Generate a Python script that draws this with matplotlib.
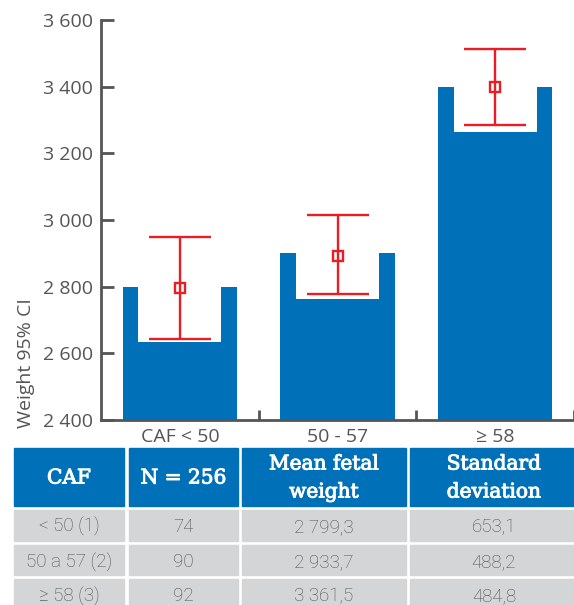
import matplotlib
matplotlib.use('Agg')
import matplotlib.pyplot as plt
import matplotlib.patheffects as pe
from matplotlib.patches import Rectangle
import numpy as np

# chart values
categories = ['CAF < 50', '50 - 57', '≥ 58']
bar_tops = [2800, 2900, 3400]
notch_bottoms = [2635, 2763, 3264]
means = [2795, 2893, 3398]
ci_low = [2643, 2779, 3284]
ci_high = [2948, 3014, 3512]
yticks = [2400, 2600, 2800, 3000, 3200, 3400, 3600]

# table below the chart
header = ['CAF', 'N = 256', 'Mean fetal\nweight', 'Standard\ndeviation']
caf_groups = ['< 50 (1)', '50 a 57 (2)', '≥ 58 (3)']
n_values = ['74', '90', '92']
mean_weights = ['2 799,3', '2 933,7', '3 361,5']
std_devs = ['653,1', '488,2', '484,8']

BLUE = '#0070b8'
RED = '#ec1c24'
GREY = '#555555'
W, H = 574, 605

fig = plt.figure(figsize=(W / 100, H / 100), dpi=100)

# table drawn in pixel coordinates, behind the chart axes
tab = fig.add_axes([0, 0, 1, 1])
tab.set_xlim(0, W)
tab.set_ylim(H, 0)
tab.axis('off')

ax = fig.add_axes([101 / W, (H - 420) / H, (W - 101) / W, 400 / H])
ax.patch.set_alpha(0)

x = np.arange(len(categories))
ax.bar(x, bar_tops, width=0.724, bottom=0, color=BLUE, zorder=1)
ax.bar(x, np.array(bar_tops) - np.array(notch_bottoms), width=0.527,
       bottom=notch_bottoms, color='white', zorder=2)
means = np.array(means)
err = [means - np.array(ci_low), np.array(ci_high) - means]
ax.errorbar(x, means, yerr=err, fmt='s', color=RED, ecolor=RED, elinewidth=1.7,
            capsize=22.3, capthick=1.7, markersize=7.5, mfc='none', mew=1.7, zorder=3)

ax.set_xlim(-0.5, 2.5)
ax.set_ylim(2400, 3600)
ax.set_yticks(yticks)
ax.set_yticklabels([f'{v:,}'.replace(',', ' ') for v in yticks])
ax.set_xticks(x)
ax.set_xticklabels(categories)
ax.set_xticks(x + 0.5, minor=True)

for s in ['top', 'right']:
    ax.spines[s].set_visible(False)
for s in ['left', 'bottom']:
    ax.spines[s].set_color(GREY)
    ax.spines[s].set_linewidth(2)

ax.tick_params(axis='y', direction='in', length=9, width=2, color=GREY,
               labelsize=14, labelcolor=GREY, pad=6)
ax.tick_params(axis='x', which='major', length=0, labelsize=14,
               labelcolor=GREY, pad=6)
ax.tick_params(axis='x', which='minor', direction='in', length=7, width=2, color=GREY)
for lab in ax.get_xticklabels() + ax.get_yticklabels():
    lab.set_family(['Open Sans', 'DejaVu Sans'])

ax.set_ylabel('Weight 95% CI', fontsize=14, color=GREY, family=['Open Sans', 'DejaVu Sans'],
              loc='bottom')
ax.yaxis.set_label_coords(-0.14, -0.02)

col_edges = [(14, 124), (129, 238), (242, 406), (410, 578)]
row_edges = [(510, 541), (545, 575), (579, 615)]
for (x0, x1), txt in zip(col_edges, header):
    tab.add_patch(Rectangle((x0, 448), x1 - x0, 58, color=BLUE))
    tab.text((x0 + x1) / 2, 478, txt, ha='center', va='center', color='white',
             fontsize=14.5, family='DejaVu Serif', linespacing=1.6,
             path_effects=[pe.withStroke(linewidth=0.7, foreground='white')])

columns = [caf_groups, n_values, mean_weights, std_devs]
for (x0, x1), col in zip(col_edges, columns):
    for (y0, y1), txt in zip(row_edges, col):
        tab.add_patch(Rectangle((x0, y0), x1 - x0, y1 - y0, color='#d4d5d7'))
        tab.text((x0 + x1) / 2, y0 + 17, txt, ha='center', va='center',
                 color='#505050', fontsize=13.5, fontweight='light',
                 family=['Roboto', 'DejaVu Sans'])

fig.savefig('out.png', dpi=100)
